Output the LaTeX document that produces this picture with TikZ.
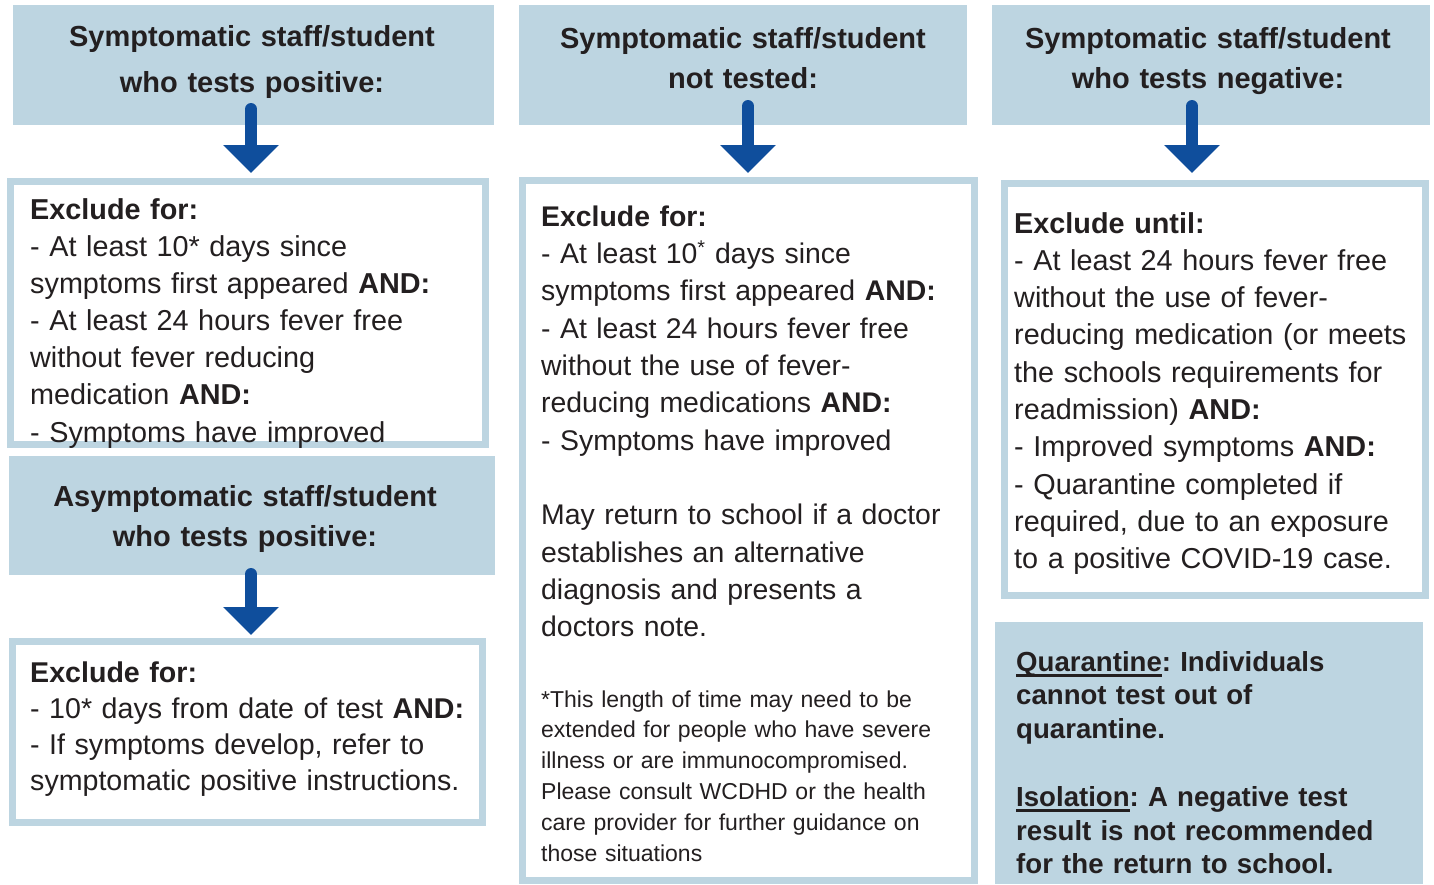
\documentclass[tikz,border=0pt]{standalone}
\usepackage{fontspec}
\setmainfont{Liberation Sans}[WordSpace=0.85]
\usetikzlibrary{arrows.meta}
\definecolor{lb}{HTML}{BDD5E1}
\definecolor{ab}{HTML}{0F4E9C}
\definecolor{tx}{HTML}{231F20}
\newcommand\myul[1]{\leavevmode\setbox0\hbox{#1}\rlap{\rule[-6pt]{\wd0}{3pt}}#1}
\frenchspacing
\begin{document}
\begin{tikzpicture}[x=1pt,y=-1pt,
  hdr/.style={fill=lb, draw=none, inner sep=0, outer sep=0},
  box/.style={draw=lb, line width=7pt, fill=white, inner sep=0, outer sep=0},
  hdrtxt/.style={inner sep=0, anchor=base, align=center, text width=460pt, text=tx},
  bodytxt/.style={inner sep=0, anchor=base west, align=left, text width=#1, text=tx},
  bigarrow/.style={draw=ab, line width=12pt, line cap=round, -{Triangle[width=54pt,length=28pt]}}
]
\useasboundingbox (0,0) rectangle (1434,884);
\fill[white] (0,0) rectangle (1434,884);

% headers
\node[hdr, minimum width=481, minimum height=120] (h1) at (253.5,65) {};
\node[hdr, minimum width=486, minimum height=119] (h2) at (252,515.5) {};
\node[hdr, minimum width=448, minimum height=120] (h3) at (743,65) {};
\node[hdr, minimum width=438, minimum height=120] (h4) at (1211,65) {};
\node[hdr, minimum width=428, minimum height=262] (q) at (1209,753) {};

% boxes
\node[box, minimum width=475, minimum height=263] (b1) at (248,313) {};
\node[box, minimum width=470, minimum height=181] (b2) at (247.5,732) {};
\node[box, minimum width=452, minimum height=700] (b3) at (748.5,530.5) {};
\node[box, minimum width=421, minimum height=412] (b4) at (1215,389.5) {};

% header texts
\node[hdrtxt, font=\bfseries\fontsize{29}{46}\selectfont] (h1t) at (252,46)
  {Symptomatic staff/student\\who tests positive:};
\node[hdrtxt, font=\bfseries\fontsize{29}{40}\selectfont] (h2t) at (245,506)
  {Asymptomatic staff/student\\who tests positive:};
\node[hdrtxt, font=\bfseries\fontsize{29}{40}\selectfont] (h3t) at (743,48)
  {Symptomatic staff/student\\not tested:};
\node[hdrtxt, font=\bfseries\fontsize{29}{40}\selectfont] (h4t) at (1208,48)
  {Symptomatic staff/student\\who tests negative:};

% body texts
\node[bodytxt=455pt, font=\fontsize{28.8}{37.17}\selectfont] (t1) at (30,219)
  {{\bfseries Exclude for:}\\
   - At least 10* days since\\
   symptoms first appeared {\bfseries AND:}\\
   - At least 24 hours fever free\\
   without fever reducing\\
   medication {\bfseries AND:}\\
   - Symptoms have improved};

\node[bodytxt=450pt, font=\fontsize{28.6}{36}\selectfont] (t2) at (30,682)
  {{\bfseries Exclude for:}\\
   - 10* days from date of test {\bfseries AND:}\\
   - If symptoms develop, refer to\\
   symptomatic positive instructions.};

\node[bodytxt=425pt, font=\fontsize{28.4}{37.36}\selectfont] (t3) at (541,226)
  {{\bfseries Exclude for:}\\
   - At least 10\textsuperscript{*} days since\\
   symptoms first appeared {\bfseries AND:}\\
   - At least 24 hours fever free\\
   without the use of fever-\\
   reducing medications {\bfseries AND:}\\
   - Symptoms have improved\\[37.36pt]
   May return to school if a doctor\\
   establishes an alternative\\
   diagnosis and presents a\\
   doctors note.};

\node[bodytxt=425pt, font=\fontsize{23}{30.8}\selectfont] (fn) at (541,707)
  {*This length of time may need to be\\
   extended for people who have severe\\
   illness or are immunocompromised.\\
   Please consult WCDHD or the health\\
   care provider for further guidance on\\
   those situations};

\node[bodytxt=410pt, font=\fontsize{28.8}{37.33}\selectfont] (t4) at (1014,233)
  {{\bfseries Exclude until:}\\
   - At least 24 hours fever free\\
   without the use of fever-\\
   reducing medication (or meets\\
   the schools requirements for\\
   readmission) {\bfseries AND:}\\
   - Improved symptoms {\bfseries AND:}\\
   - Quarantine completed if\\
   required, due to an exposure\\
   to a positive COVID-19 case.};

\node[bodytxt=400pt, font=\bfseries\fontsize{27.6}{33.8}\selectfont] (qt) at (1016,671)
  {\myul{Quarantine}: Individuals\\
   cannot test out of\\
   quarantine.\\[33.8pt]
   \myul{Isolation}: A negative test\\
   result is not recommended\\
   for the return to school.};

% arrows
\coordinate (a1) at (251,109);
\coordinate (a2) at (251,574);
\coordinate (a3) at (748,106);
\coordinate (a4) at (1192,106);
\draw[bigarrow, shorten >=8.5pt] (a1) -- (a1 |- b1.north);
\draw[bigarrow, shorten >=6.5pt] (a2) -- (a2 |- b2.north);
\draw[bigarrow, shorten >=7.5pt] (a3) -- (a3 |- b3.north);
\draw[bigarrow, shorten >=10.5pt] (a4) -- (a4 |- b4.north);
\end{tikzpicture}
\end{document}
